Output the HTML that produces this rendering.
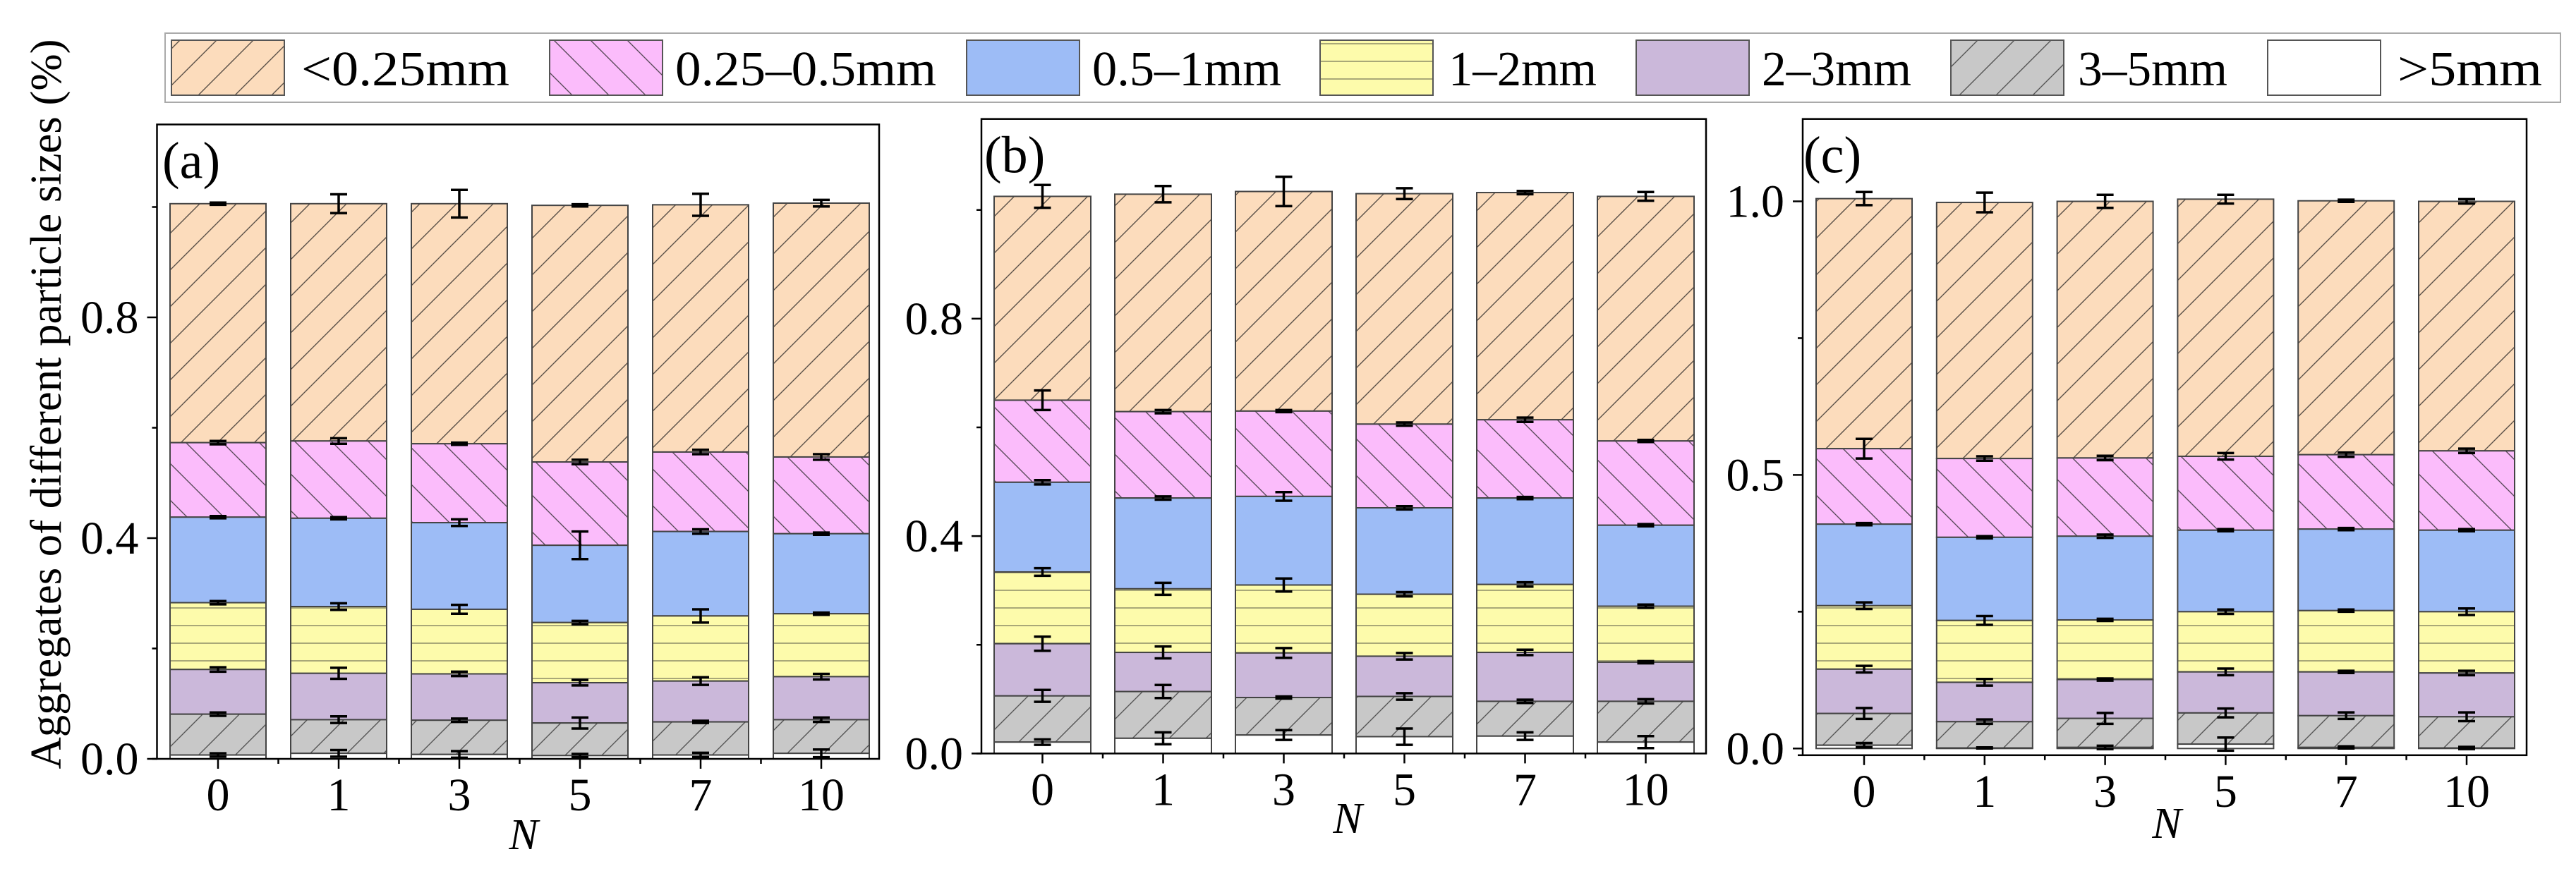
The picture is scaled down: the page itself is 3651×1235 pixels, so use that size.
<!DOCTYPE html>
<html><head><meta charset="utf-8">
<style>
html,body{margin:0;padding:0;background:#fff;}
svg, svg text{font-family:"Liberation Serif","DejaVu Serif","Times New Roman",serif;}
</style></head>
<body>
<svg id="chart" width="3651" height="1230" viewBox="0 0 3651 1230" xmlns="http://www.w3.org/2000/svg">
<defs>
  <pattern id="pOrange" patternUnits="userSpaceOnUse" width="52" height="52">
    <rect width="52" height="52" fill="#fcdcbc"/>
    <path d="M0,52 L52,0 M-10,10 L10,-10 M42,62 L62,42" stroke="#5a5048" stroke-width="1.4"/>
  </pattern>
  <pattern id="pPink" patternUnits="userSpaceOnUse" width="52" height="52">
    <rect width="52" height="52" fill="#fbbcfb"/>
    <path d="M0,0 L52,52 M-10,42 L10,62 M42,-10 L62,10" stroke="#5a4a5a" stroke-width="1.4"/>
  </pattern>
  <pattern id="pYellow" patternUnits="userSpaceOnUse" width="52" height="25">
    <rect width="52" height="25" fill="#fdfbab"/>
    <path d="M0,12 L52,12" stroke="#77775a" stroke-width="1.3"/>
  </pattern>
  <pattern id="pGray" patternUnits="userSpaceOnUse" width="52" height="52">
    <rect width="52" height="52" fill="#c8c8c8"/>
    <path d="M0,52 L52,0 M-10,10 L10,-10 M42,62 L62,42" stroke="#555" stroke-width="1.4"/>
  </pattern>
</defs>

<g>
  <rect x="234" y="47" width="3395" height="98" fill="#fff" stroke="#aaa" stroke-width="2"/>
  <g>
    <rect x="243" y="57" width="160" height="78" fill="url(#pOrange)" stroke="#555" stroke-width="2"/>
    <text x="427" y="121" font-size="70" textLength="295" lengthAdjust="spacingAndGlyphs">&lt;0.25mm</text>
  </g>
  <g>
    <rect x="779" y="57" width="160" height="78" fill="url(#pPink)" stroke="#555" stroke-width="2"/>
    <text x="957" y="121" font-size="70" textLength="370" lengthAdjust="spacingAndGlyphs">0.25–0.5mm</text>
  </g>
  <g>
    <rect x="1370" y="57" width="160" height="78" fill="#9dbcf6" stroke="#555" stroke-width="2"/>
    <text x="1548" y="121" font-size="70" textLength="268" lengthAdjust="spacingAndGlyphs">0.5–1mm</text>
  </g>
  <g>
    <rect x="1871" y="57" width="160" height="78" fill="url(#pYellow)" stroke="#555" stroke-width="2"/>
    <text x="2053" y="121" font-size="70" textLength="210" lengthAdjust="spacingAndGlyphs">1–2mm</text>
  </g>
  <g>
    <rect x="2319" y="57" width="160" height="78" fill="#cbb8da" stroke="#555" stroke-width="2"/>
    <text x="2497" y="121" font-size="70" textLength="212" lengthAdjust="spacingAndGlyphs">2–3mm</text>
  </g>
  <g>
    <rect x="2765" y="57" width="160" height="78" fill="url(#pGray)" stroke="#555" stroke-width="2"/>
    <text x="2945" y="121" font-size="70" textLength="212" lengthAdjust="spacingAndGlyphs">3–5mm</text>
  </g>
  <g>
    <rect x="3214" y="57" width="160" height="78" fill="#fff" stroke="#555" stroke-width="2"/>
    <text x="3398" y="121" font-size="70" textLength="205" lengthAdjust="spacingAndGlyphs">&gt;5mm</text>
  </g>
</g>

<text transform="translate(86,573) rotate(-90)" text-anchor="middle" font-size="62" textLength="1035" lengthAdjust="spacingAndGlyphs">Aggregates of different particle sizes (%)</text>

<g id="plots"></g>
</svg>

<script>
const categories = ['0','1','3','5','7','10'];
const seriesNames = ['lt025','025-05','05-1','1-2','2-3','3-5','gt5'];

// Panel (a): cumulative top of each segment
const aLt025 = [1.006,1.006,1.006,1.003,1.004,1.007];
const a025 = [0.573,0.576,0.571,0.538,0.556,0.547];
const a05 = [0.438,0.436,0.428,0.387,0.412,0.408];
const a1 = [0.283,0.276,0.271,0.247,0.259,0.263];
const a2 = [0.162,0.155,0.154,0.138,0.141,0.149];
const a3 = [0.081,0.071,0.070,0.065,0.067,0.071];
const a5 = [0.007,0.010,0.008,0.006,0.007,0.010];
const aErrLt025 = [0.002,0.017,0.025,0.002,0.020,0.006];
const aErr025 = [0.003,0.005,0.002,0.004,0.004,0.005];
const aErr05 = [0.002,0.002,0.006,0.025,0.004,0.002];
const aErr1 = [0.003,0.006,0.008,0.003,0.012,0.002];
const aErr2 = [0.004,0.010,0.004,0.005,0.007,0.005];
const aErr3 = [0.003,0.006,0.003,0.010,0.002,0.004];
const aErr5 = [0.003,0.006,0.006,0.003,0.004,0.007];

// Panel (b)
const bLt025 = [1.025,1.029,1.034,1.030,1.032,1.025];
const b025 = [0.650,0.629,0.630,0.606,0.614,0.575];
const b05 = [0.499,0.470,0.473,0.452,0.470,0.420];
const b1 = [0.334,0.303,0.310,0.293,0.311,0.271];
const b2 = [0.202,0.186,0.185,0.179,0.186,0.168];
const b3 = [0.106,0.114,0.103,0.105,0.096,0.096];
const b5 = [0.021,0.028,0.034,0.031,0.032,0.021];
const bErrLt025 = [0.021,0.015,0.027,0.010,0.003,0.008];
const bErr025 = [0.018,0.003,0.002,0.003,0.004,0.002];
const bErr05 = [0.004,0.003,0.008,0.003,0.002,0.002];
const bErr1 = [0.007,0.011,0.012,0.004,0.004,0.003];
const bErr2 = [0.013,0.011,0.009,0.006,0.005,0.002];
const bErr3 = [0.011,0.012,0.002,0.006,0.003,0.004];
const bErr5 = [0.005,0.011,0.009,0.015,0.007,0.011];

// Panel (c)
const cLt025 = [1.005,0.998,1.000,1.004,1.001,1.000];
const c025 = [0.548,0.530,0.531,0.534,0.537,0.544];
const c05 = [0.410,0.386,0.388,0.399,0.401,0.399];
const c1 = [0.261,0.234,0.235,0.250,0.252,0.250];
const c2 = [0.145,0.121,0.126,0.140,0.140,0.138];
const c3 = [0.064,0.049,0.055,0.065,0.060,0.058];
const c5 = [0.006,0.001,0.002,0.008,0.002,0.001];
const cErrLt025 = [0.012,0.018,0.012,0.008,0.002,0.004];
const cErr025 = [0.018,0.004,0.004,0.006,0.004,0.004];
const cErr05 = [0.002,0.002,0.003,0.002,0.002,0.002];
const cErr1 = [0.006,0.008,0.002,0.004,0.002,0.006];
const cErr2 = [0.006,0.006,0.002,0.006,0.002,0.004];
const cErr3 = [0.010,0.004,0.010,0.008,0.006,0.008];
const cErr5 = [0.004,0.001,0.003,0.012,0.002,0.002];

const aTicks = ['0.0','0.4','0.8'];
const aTickVals = [0,0.4,0.8];
const bTicks = ['0.0','0.4','0.8'];
const bTickVals = [0,0.4,0.8];
const cTicks = ['0.0','0.5','1.0'];
const cTickVals = [0,0.5,1.0];

const fills = ['url(#pOrange)','url(#pPink)','#9dbcf6','url(#pYellow)','#cbb8da','url(#pGray)','#fff'];
const NS = 'http://www.w3.org/2000/svg';
function mk(tag, attrs, parent){
  const e = document.createElementNS(NS, tag);
  for (const k in attrs) e.setAttribute(k, attrs[k]);
  if (parent) parent.appendChild(e);
  return e;
}

const panels = [
  {id:'a', label:'(a)', tops:[aLt025,a025,a05,a1,a2,a3,a5], errs:[aErrLt025,aErr025,aErr05,aErr1,aErr2,aErr3,aErr5],
   ticks:aTicks, tickVals:aTickVals, minor:[0.2,0.6,1.0],
   left:222.5, right:1246, top:176.5, bottom:1076, y0:1076, unit:782.5, x0:309, step:171, bw:136, nx:742, ny:1204, labX:230},
  {id:'b', label:'(b)', tops:[bLt025,b025,b05,b1,b2,b3,b5], errs:[bErrLt025,bErr025,bErr05,bErr1,bErr2,bErr3,bErr5],
   ticks:bTicks, tickVals:bTickVals, minor:[0.2,0.6,1.0],
   left:1391, right:2418, top:168.7, bottom:1068.4, y0:1068.4, unit:770.7, x0:1477.5, step:171, bw:137, nx:1910, ny:1181, labX:1395},
  {id:'c', label:'(c)', tops:[cLt025,c025,c05,c1,c2,c3,c5], errs:[cErrLt025,cErr025,cErr05,cErr1,cErr2,cErr3,cErr5],
   ticks:cTicks, tickVals:cTickVals, minor:[0.25,0.75],
   left:2555, right:3581, top:168.7, bottom:1070.8, y0:1061.3, unit:775.8, x0:2642, step:170.8, bw:136, nx:3071, ny:1188, labX:2556}
];

const root = document.getElementById('plots');
panels.forEach(p => {
  const g = mk('g', {}, root);
  
  
  const yS = v => p.y0 - v * p.unit;
  const xS = i => p.x0 + i * p.step;

  categories.forEach((c, i) => {
    const bg = mk('g', {}, g);
    
    
    for (let s = 0; s < 7; s++) {
      const top = p.tops[s][i];
      const bot = s < 6 ? p.tops[s + 1][i] : 0;
      const r = mk('rect', {x: xS(i) - p.bw / 2, y: yS(top), width: p.bw, height: Math.max(0, yS(bot) - yS(top)),
        fill: fills[s], stroke: '#444', 'stroke-width': 2}, bg);
      
      
    }
    for (let s = 0; s < 7; s++) {
      const v = p.tops[s][i], e = p.errs[s][i];
      const x = xS(i), y1 = yS(v + e), y2 = yS(v - e);
      const eg = mk('g', {stroke: '#000', 'stroke-width': 3.5}, bg);
      
      
      mk('line', {x1: x, x2: x, y1: y1, y2: y2}, eg);
      mk('line', {x1: x - 12, x2: x + 12, y1: y1, y2: y1}, eg);
      mk('line', {x1: x - 12, x2: x + 12, y1: y2, y2: y2}, eg);
    }
  });

  const fr = mk('rect', {x: p.left, y: p.top, width: p.right - p.left, height: p.bottom - p.top, fill: 'none', stroke: '#000', 'stroke-width': 2.5}, g);
  
  

  p.tickVals.forEach((v, k) => {
    mk('line', {x1: p.left - 14, x2: p.left, y1: yS(v), y2: yS(v), stroke: '#000', 'stroke-width': 2.5}, g);
    const t = mk('text', {x: p.left - 26, y: yS(v) + 22, 'font-size': 66, 'text-anchor': 'end'}, g);
    t.textContent = p.ticks[k];
    
    
  });
  p.minor.forEach(v => {
    mk('line', {x1: p.left - 7, x2: p.left, y1: yS(v), y2: yS(v), stroke: '#000', 'stroke-width': 2.5}, g);
  });

  categories.forEach((c, i) => {
    mk('line', {x1: xS(i), x2: xS(i), y1: p.bottom, y2: p.bottom + 14, stroke: '#000', 'stroke-width': 2.5}, g);
    if (i < categories.length - 1) {
      mk('line', {x1: xS(i) + p.step / 2, x2: xS(i) + p.step / 2, y1: p.bottom, y2: p.bottom + 7, stroke: '#000', 'stroke-width': 2.5}, g);
    }
    const t = mk('text', {x: xS(i), y: p.bottom + 73, 'font-size': 66, 'text-anchor': 'middle'}, g);
    t.textContent = c;
    
    
  });
  mk('line', {x1: p.left - 7, x2: p.left, y1: p.bottom, y2: p.bottom, stroke: '#000', 'stroke-width': 2.5}, g);

  const nt = mk('text', {x: p.nx, y: p.ny, 'font-size': 62, 'font-style': 'italic', 'text-anchor': 'middle'}, g);
  nt.textContent = 'N';
  
  

  const lt = mk('text', {x: p.labX, y: p.top + 76, 'font-size': 74}, g);
  lt.textContent = p.label;
  
  
});
</script>
</body></html>
